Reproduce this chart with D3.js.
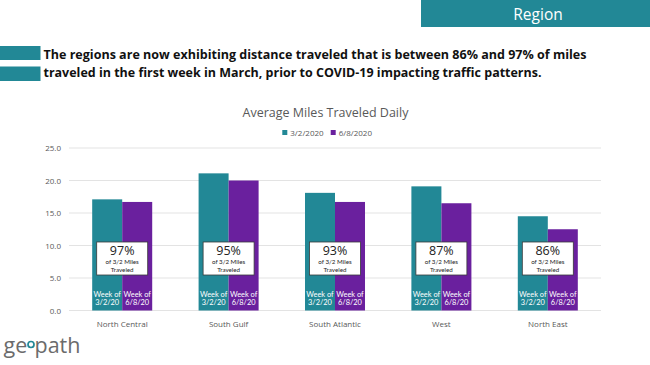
<!DOCTYPE html>
<html><head><meta charset="utf-8">
<script src="https://cdn.jsdelivr.net/npm/d3@7"></script>
<style>
html,body{margin:0;padding:0;background:#fff;}
svg{display:block;font-family:"Open Sans","Noto Sans",sans-serif;}
</style></head>
<body>
<svg id="c" width="650" height="365"></svg>
<script>
const categories = ["North Central","South Gulf","South Atlantic","West","North East"];
const seriesNames = ["3/2/2020","6/8/2020"];
const march = [17.1, 21.1, 18.1, 19.1, 14.5];
const june = [16.7, 20.0, 16.7, 16.5, 12.5];
const pctLabels = ["97%","95%","93%","87%","86%"];
const weekLabels = [["Week of","3/2/20"],["Week of","6/8/20"]];
const yTicks = [0,5,10,15,20,25];
const colors = ["#228896","#6a209e"];

const svg = d3.select("#c");

// Header box
svg.append("rect").attr("x",421).attr("y",0).attr("width",229).attr("height",27).attr("fill","#228896");
svg.append("text").attr("x",538).attr("y",19.5).attr("text-anchor","middle").attr("fill","#fff")
  .attr("font-size",15.5).text("Region");

// Headline
svg.append("rect").attr("x",0).attr("y",46).attr("width",40.5).attr("height",14).attr("fill","#228896");
svg.append("rect").attr("x",0).attr("y",66.5).attr("width",40.5).attr("height",14.5).attr("fill","#228896");
const hl = ["The regions are now exhibiting distance traveled that is between 86% and 97% of miles",
            "traveled in the first week in March, prior to COVID-19 impacting traffic patterns."];
const hlW = [543, 498];
hl.forEach((t,i)=>{
  svg.append("text").attr("x",43.5).attr("y",58.5+i*18.3).attr("font-weight","bold")
    .attr("font-size",13).attr("fill","#111")
    .attr("textLength",hlW[i]).attr("lengthAdjust","spacingAndGlyphs").text(t);
});

// Chart title
svg.append("text").attr("x",325.5).attr("y",117).attr("text-anchor","middle").attr("fill","#595959")
  .attr("font-size",12.5).text("Average Miles Traveled Daily");

// Legend
const legX = [282.3, 330.7];
seriesNames.forEach((s,i)=>{
  svg.append("rect").attr("x",legX[i]).attr("y",130).attr("width",5).attr("height",5).attr("fill",colors[i]);
  svg.append("text").attr("x",legX[i]+8).attr("y",135.5).attr("font-size",8).attr("fill","#595959").text(s);
});

// Scales
const x = d3.scaleBand().domain(categories).range([69,601]).paddingInner(0.436).paddingOuter(0.218);
const x1 = d3.scaleBand().domain([0,1]).range([0,x.bandwidth()]);
const y = d3.scaleLinear().domain([0,25]).range([310.5,148]);

// Gridlines
svg.append("g").selectAll("line").data(yTicks).join("line")
  .attr("x1",69).attr("x2",601).attr("y1",d=>y(d)).attr("y2",d=>y(d))
  .attr("stroke","#e3e3e3").attr("stroke-width",1);

// Y axis labels
const yAxis = d3.axisLeft(y).tickValues(yTicks).tickFormat(d3.format(".1f")).tickSize(0).tickPadding(0);
const ga = svg.append("g").attr("transform","translate(61,0)").call(yAxis);
ga.select(".domain").remove();
ga.selectAll("text").attr("font-size",8).attr("fill","#595959").attr("font-family","Open Sans, Noto Sans, sans-serif");

// Bars
const vals = [march, june];
const groups = svg.append("g").selectAll("g").data(categories).join("g")
  .attr("transform",d=>`translate(${x(d)},0)`);
groups.each(function(cat,ci){
  const g = d3.select(this);
  [0,1].forEach(si=>{
    const v = vals[si][ci];
    g.append("rect").attr("x",x1(si)).attr("width",x1.bandwidth()).attr("y",y(v)).attr("height",y(0)-y(v))
      .attr("fill",colors[si]);
    const cx = x1(si)+x1.bandwidth()/2;
    weekLabels[si].forEach((t,li)=>{
      g.append("text").attr("x",cx).attr("y",y(0)-13.5+li*8.2).attr("text-anchor","middle")
        .attr("font-family","Lato, sans-serif").attr("font-size",7.4).attr("fill","#fff").text(t);
    });
  });
  const cx = x.bandwidth()/2;
  g.append("rect").attr("x",cx-25.5).attr("y",242).attr("width",51).attr("height",33)
    .attr("fill","#fff").attr("stroke","#3a3a3a").attr("stroke-width",0.8);
  g.append("text").attr("x",cx).attr("y",254.5).attr("text-anchor","middle").attr("font-size",12.5).attr("fill","#222").text(pctLabels[ci]);
  g.append("text").attr("x",cx).attr("y",264.3).attr("text-anchor","middle").attr("font-family","Lato, sans-serif").attr("font-size",6.2).attr("fill","#222").text("of 3/2 Miles");
  g.append("text").attr("x",cx).attr("y",271.8).attr("text-anchor","middle").attr("font-family","Lato, sans-serif").attr("font-size",6.2).attr("fill","#222").text("Traveled");
  g.append("text").attr("x",cx).attr("y",327).attr("text-anchor","middle").attr("font-size",8).attr("fill","#595959").text(cat);
});

// Logo
const logo = svg.append("g");
logo.append("text").attr("x",3.5).attr("y",352.5).attr("font-size",21.5).attr("fill","#6b6b6b").text("ge");
logo.append("circle").attr("cx",31).attr("cy",344.5).attr("r",3).attr("fill","none").attr("stroke","#228896").attr("stroke-width",1.7);
logo.append("text").attr("x",34.5).attr("y",352.5).attr("font-size",21.5).attr("fill","#6b6b6b").text("path");
</script>
</body></html>
